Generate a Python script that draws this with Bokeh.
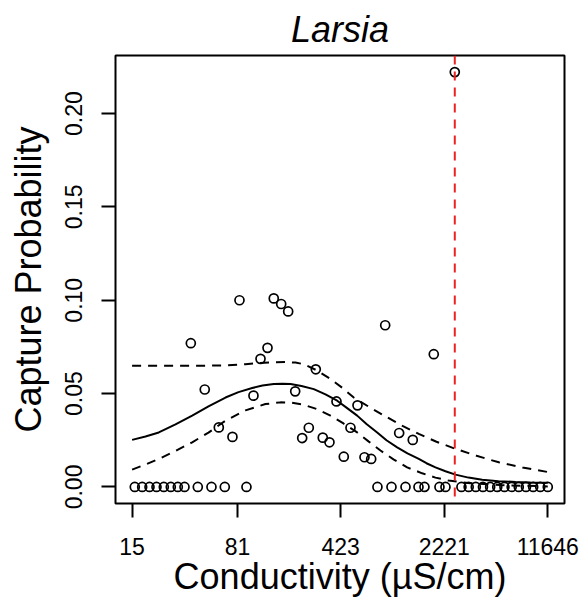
import numpy as np
from bokeh.plotting import figure
from bokeh.models import Range1d, FixedTicker, Span, PrintfTickFormatter, NumeralTickFormatter
from bokeh.embed import file_html
from bokeh.resources import INLINE

# Observed capture probabilities (conductivity in uS/cm)
cond_obs = [83.7, 144.9, 163.2, 182.5, 38.4, 131.1, 117.2, 284.0, 48.0, 104.7,
            204.2, 395.5, 60.1, 74.8, 253.9, 228.4, 317.5, 353.5, 444.5, 494.8,
            553.5, 619.2, 689.3, 862.5, 1079, 1341, 1877, 2628]
prob_obs = [0.100, 0.101, 0.098, 0.094, 0.077, 0.0745, 0.0686, 0.063, 0.0522, 0.0489,
            0.0512, 0.0458, 0.0319, 0.0268, 0.0317, 0.0262, 0.0264, 0.0239, 0.0162, 0.0317,
            0.0437, 0.0159, 0.0150, 0.0866, 0.0289, 0.0252, 0.0711, 0.2222]
cond_zero = [15.66, 17.63, 19.82, 22.17, 24.92, 27.87, 31.18, 34.71, 42.94, 53.46,
             66.15, 93.6, 762, 954, 1194, 1470, 1618, 2057, 2264, 2924,
             3282, 3678, 4125, 4629, 5187, 5820, 6532, 7319, 8213, 9217,
             10325, 11646]
prob_zero = [0.0] * len(cond_zero)

# Fitted curve and confidence band
fit_cond = [15, 18.59, 23.0, 30.05, 39.25, 50.95, 66.9, 82.37, 102.6, 120.96,
            144.9, 166.6, 189.4, 225.8, 275.0, 331.6, 399.9, 464.1, 550.9, 639.3,
            758.7, 880.5, 1044.8, 1232, 1476.6, 1670, 1929, 2264, 2657, 3272,
            4074, 5289, 6943, 8827, 11646]
fit_prob = [0.0252, 0.0270, 0.0292, 0.0335, 0.0382, 0.0432, 0.0479, 0.0508, 0.0530, 0.0543,
            0.0551, 0.0553, 0.0551, 0.0541, 0.0524, 0.0496, 0.0462, 0.0425, 0.0382, 0.0337,
            0.0292, 0.0250, 0.0212, 0.0180, 0.0150, 0.0127, 0.0105, 0.0084, 0.0066, 0.0050,
            0.0038, 0.0031, 0.0027, 0.0024, 0.0022]
up_cond = [15, 39.25, 66.9, 92.15, 114.0, 141.96, 174.8, 205.1, 233.2, 284.0,
           359.2, 435.3, 521.7, 681.6, 890.5, 1138, 1476.6, 1960, 2657, 3721,
           5314, 7766, 11646]
up_prob = [0.0649, 0.0649, 0.0651, 0.0657, 0.0664, 0.0668, 0.0669, 0.0666, 0.0658, 0.0627,
           0.0578, 0.0530, 0.0479, 0.0424, 0.0373, 0.0327, 0.0284, 0.0242, 0.0204, 0.0167,
           0.0132, 0.0104, 0.0080]
lo_cond = [15, 18.59, 23.0, 30.05, 39.25, 50.95, 66.9, 92.15, 126.9, 161.4,
           192.4, 234.3, 287.1, 359.2, 442.3, 550.9, 660.1, 799.8, 984.8, 1226,
           1559, 1929, 2376, 3378, 5461, 11646]
lo_prob = [0.0093, 0.0120, 0.0150, 0.0193, 0.0239, 0.0291, 0.0355, 0.0410, 0.0444, 0.0453,
           0.0451, 0.0440, 0.0418, 0.0382, 0.0340, 0.0292, 0.0244, 0.0195, 0.0148, 0.0105,
           0.0073, 0.0050, 0.0034, 0.0020, 0.0010, 0.0003]

threshold = 2628
x_ticks = [15, 81, 423, 2221, 11646]
y_ticks = [0.0, 0.05, 0.10, 0.15, 0.20]

FONT = "Liberation Sans"

p = figure(width=580, height=603, x_axis_type="log",
           x_range=Range1d(11.5, 15220), y_range=Range1d(-0.00887, 0.2311),
           output_backend="svg", toolbar_location=None,
           min_border_left=115, min_border_right=16, min_border_top=54, min_border_bottom=100)

p.title.text = "Larsia"
p.title.text_font = FONT
p.title.text_font_style = "italic"
p.title.text_font_size = "36px"
p.title.align = "center"
p.title.text_color = "black"
p.title.standoff = 12

p.grid.visible = False
p.outline_line_color = "black"
p.outline_line_width = 2
p.outline_line_alpha = 1
p.background_fill_color = "white"
p.border_fill_color = "white"

p.line(fit_cond, fit_prob, line_color="black", line_width=2)
p.line(up_cond, up_prob, line_color="black", line_width=2, line_dash="9 7")
p.line(lo_cond, lo_prob, line_color="black", line_width=2, line_dash="9 7")

p.scatter(cond_obs, prob_obs, marker="circle", size=9, fill_color=None,
          line_color="black", line_width=1.7)
p.scatter(cond_zero, prob_zero, marker="circle", size=9, fill_color=None,
          line_color="black", line_width=1.7)

p.add_layout(Span(location=threshold, dimension="height", line_color="#ee2222",
                  line_width=2, line_dash="9 7"))

for ax in (p.xaxis[0], p.yaxis[0]):
    ax.axis_line_color = None
    ax.major_tick_line_color = "black"
    ax.major_tick_line_width = 2
    ax.major_tick_out = 14
    ax.major_tick_in = 0
    ax.minor_tick_line_color = None
    ax.major_label_text_font = FONT
    ax.major_label_text_font_size = "23px"
    ax.major_label_text_color = "black"
    ax.axis_label_text_font = FONT
    ax.axis_label_text_font_size = "36px"
    ax.axis_label_text_font_style = "normal"
    ax.axis_label_text_color = "black"

p.xaxis.ticker = FixedTicker(ticks=x_ticks)
p.xaxis.formatter = PrintfTickFormatter(format="%d")
p.xaxis.major_label_standoff = 20
p.xaxis.axis_label = "Conductivity (µS/cm)"
p.xaxis.axis_label_standoff = -2

p.yaxis.ticker = FixedTicker(ticks=y_ticks)
p.yaxis.formatter = NumeralTickFormatter(format="0.00")
p.yaxis.major_label_orientation = "vertical"
p.yaxis.major_label_standoff = 19
p.yaxis.axis_label = "Capture Probability"
p.yaxis.axis_label_standoff = 14

open("out.html", "w").write(file_html(p, INLINE))
